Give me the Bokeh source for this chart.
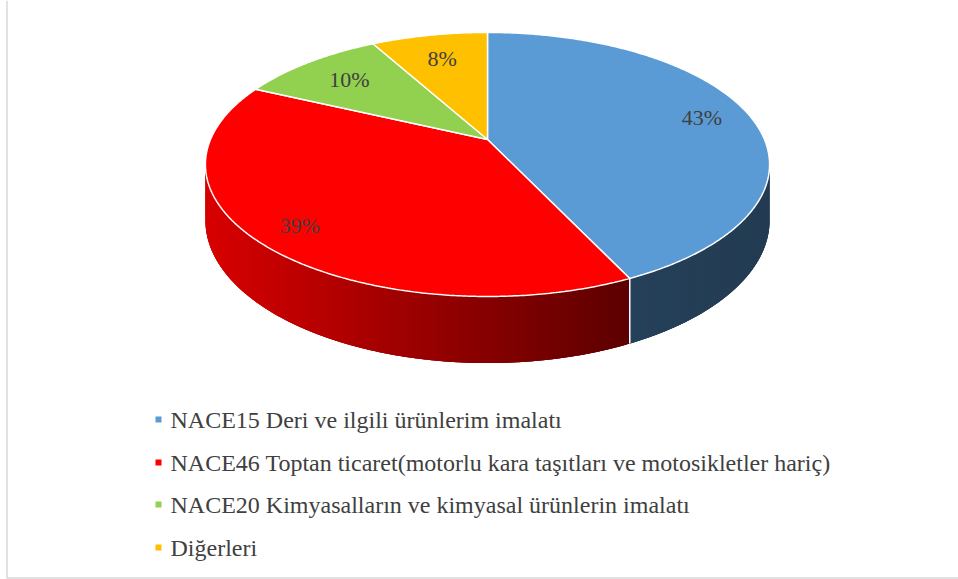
import numpy as np
from bokeh.plotting import figure
from bokeh.models import Range1d
from bokeh.core.properties import value
from bokeh.embed import file_html
from bokeh.resources import INLINE

# ---- data ----
categories = [
    "NACE15 Deri ve ilgili ürünlerim imalatı",
    "NACE46 Toptan ticaret(motorlu kara taşıtları ve motosikletler hariç)",
    "NACE20 Kimyasalların ve kimyasal ürünlerin imalatı",
    "Diğerleri",
]
shares = [43, 39, 10, 8]
label_texts = ["43%", "39%", "10%", "8%"]

# ---- style / layout ----
top_colors = ["#5B9BD5", "#FF0000", "#92D050", "#FFC000"]
side_left_colors = ["#25405A", "#D80000", "#6F9E3C", "#C09000"]
side_right_colors = ["#233C52", "#5C0000", "#5A8030", "#A07800"]
label_radius = [0.82, 0.85, 0.75, 0.75]
FONT = "Liberation Serif"
TXT = "#404040"

W, H = 958, 579
OX, OY = 0, 0
p = figure(width=W, height=H, x_range=Range1d(OX, OX + W), y_range=Range1d(OY + H, OY),
           output_backend="svg", toolbar_location=None, min_border=0,
           x_axis_location=None, y_axis_location=None)
p.grid.visible = False
p.outline_line_color = None
p.background_fill_color = "white"
p.border_fill_color = "white"

# pie geometry (pseudo-3D with perspective)
CX, CY = 487.0, 139.0
R, A, P, D = 277.0, 127.3, 0.189, 54.0


def proj(theta_deg, frac=1.0, drop=0.0):
    t = np.radians(theta_deg)
    u = np.sin(t) * frac
    v = -np.cos(t) * frac
    s = 1.0 / (1.0 - P * v)
    return CX + R * u * s, CY + A * v * s + drop * s


total = float(sum(shares))
bounds = np.concatenate([[0.0], np.cumsum(shares) / total * 360.0])

sil1 = np.degrees(np.arccos(-P))
sil2 = 360.0 - sil1


def hex2rgb(h):
    h = h.lstrip("#")
    return np.array([int(h[i:i + 2], 16) for i in (0, 2, 4)], dtype=float)


def rgb2hex(c):
    c = np.clip(np.round(c), 0, 255).astype(int)
    return "#%02x%02x%02x" % tuple(c)


def side_poly(a0, a1, n=60):
    angs = np.linspace(a0, a1, n)
    xt, yt = proj(angs)
    xb, yb = proj(angs[::-1], drop=D)
    return np.concatenate([xt, xb]), np.concatenate([yt, yb])


# sides
for i in range(len(shares)):
    a0, a1 = max(bounds[i], sil1), min(bounds[i + 1], sil2)
    if a1 <= a0:
        continue
    cl, cr = hex2rgb(side_left_colors[i]), hex2rgb(side_right_colors[i])
    bx, by = side_poly(a0, a1)
    p.patch(bx, by, fill_color=rgb2hex((cl + cr) / 2), line_color=None)
    n = max(2, int((a1 - a0) / 0.7))
    angs = np.linspace(a0, a1, n + 1)
    xa, _ = proj(a0)
    xb_, _ = proj(a1)
    lo, span = min(xa, xb_), max(1e-6, abs(xb_ - xa))
    xs_list, ys_list, cols = [], [], []
    for j in range(n):
        t0, t1 = angs[j], angs[min(j + 2, n)]
        sx, sy = side_poly(t0, t1, n=4)
        xs_list.append(list(sx))
        ys_list.append(list(sy))
        xm = (proj(angs[j])[0] + proj(angs[j + 1])[0]) / 2
        f = (xm - lo) / span
        cols.append(rgb2hex(cl * (1 - f) + cr * f))
    p.patches(xs_list, ys_list, fill_color=cols, line_color=None)

# white separators on the side
for b in bounds:
    if sil1 < b < sil2:
        x0, y0 = proj(b)
        x1, y1 = proj(b, drop=D)
        p.line([x0, x1], [y0, y1], line_color="white", line_width=1.5)

# top faces
for i in range(len(shares)):
    angs = np.linspace(bounds[i], bounds[i + 1], max(3, int((bounds[i + 1] - bounds[i]) * 2)))
    xs, ys = proj(angs)
    xs = np.concatenate([[CX], xs])
    ys = np.concatenate([[CY], ys])
    p.patch(xs, ys, fill_color=top_colors[i], line_color="white", line_width=1.5)

# data labels
lx, ly = [], []
for i in range(len(shares)):
    mid = (bounds[i] + bounds[i + 1]) / 2
    x, y = proj(mid, frac=label_radius[i])
    lx.append(x)
    ly.append(y)
p.text(lx, ly, text=label_texts, text_font=value(FONT), text_font_size="22px",
       text_color=TXT, text_align="center", text_baseline="middle")

# legend
leg_y = [419, 462, 504, 547]
p.scatter([158] * 4, leg_y, marker="square", size=6, fill_color=top_colors, line_color=None)
p.text([170] * 4, leg_y, text=categories, text_font=value(FONT), text_font_size="24px",
       text_color=TXT, text_align="left", text_baseline="middle")

# chart border (visible left and bottom edges)
p.line([6.5, 6.5], [0, 577.5], line_color="#D9D9D9", line_width=1.5)
p.line([6, W], [577.5, 577.5], line_color="#D9D9D9", line_width=1.5)

open("out.html", "w").write(file_html(p, INLINE))
